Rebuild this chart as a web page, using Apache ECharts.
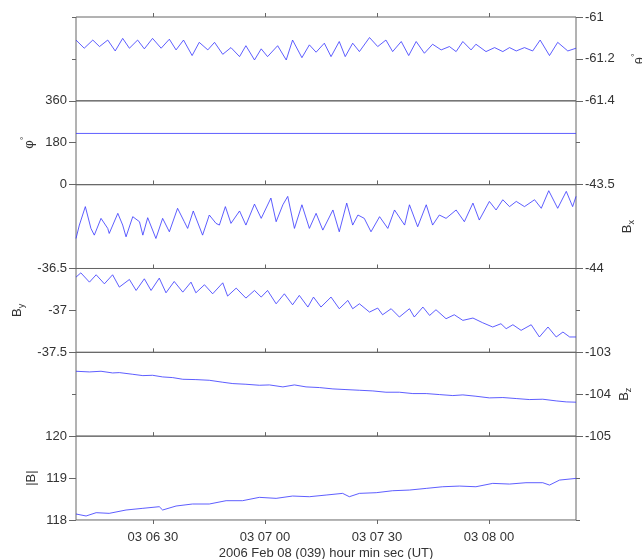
<!DOCTYPE html>
<html>
<head>
<meta charset="utf-8">
<script src="https://cdn.jsdelivr.net/npm/echarts@6/dist/echarts.min.js"></script>
<style>
  html, body { margin: 0; padding: 0; background: #fff; }
  #chart { width: 642px; height: 559px; }
</style>
</head>
<body>
<div id="chart"></div>
<script>
// time axis: seconds after 03:06:00 UT
var tickValues = [30, 60, 90, 120];
var tickLabels = ['03 06 30', '03 07 00', '03 07 30', '03 08 00'];
var xTitle = '2006 Feb 08 (039) hour min sec (UT)';

// [seconds, value]
var thetaData = [[9.4,-61.110],[11.6,-61.149],[13.9,-61.110],[15.7,-61.141],[17.9,-61.110],[19.9,-61.162],[21.9,-61.102],[23.7,-61.149],[25.9,-61.110],[27.7,-61.152],[29.9,-61.102],[32.2,-61.149],[34.4,-61.106],[36.2,-61.157],[38.2,-61.110],[40.5,-61.184],[42.4,-61.121],[44.7,-61.157],[46.5,-61.121],[48.7,-61.178],[50.9,-61.146],[53.2,-61.189],[54.9,-61.137],[57.2,-61.205],[59.0,-61.152],[60.7,-61.189],[63.4,-61.137],[65.7,-61.205],[67.4,-61.110],[69.9,-61.194],[71.9,-61.133],[73.7,-61.168],[75.9,-61.125],[77.7,-61.189],[79.9,-61.117],[81.5,-61.189],[83.5,-61.125],[85.3,-61.165],[88.0,-61.098],[90.2,-61.141],[92.4,-61.110],[94.2,-61.165],[96.5,-61.117],[98.5,-61.184],[100.5,-61.117],[102.7,-61.173],[104.9,-61.130],[107.2,-61.157],[109.4,-61.141],[111.2,-61.165],[113.0,-61.117],[115.2,-61.157],[116.5,-61.130],[119.2,-61.165],[121.5,-61.146],[123.7,-61.165],[125.5,-61.146],[127.3,-61.162],[129.5,-61.146],[131.7,-61.162],[133.7,-61.110],[136.2,-61.184],[138.4,-61.121],[141.1,-61.162],[143.3,-61.149]];

var phiData = [[9.4,220],[143.3,220]];

var bxData = [[9.4,-43.821],[10.3,-43.741],[11.9,-43.631],[13.4,-43.761],[14.3,-43.801],[16.1,-43.701],[17.9,-43.761],[18.3,-43.791],[20.6,-43.671],[21.9,-43.741],[22.8,-43.811],[24.6,-43.691],[26.4,-43.721],[27.3,-43.801],[28.6,-43.697],[30.8,-43.821],[32.6,-43.701],[34.4,-43.781],[36.6,-43.641],[38.4,-43.721],[39.3,-43.761],[40.8,-43.657],[43.3,-43.801],[45.1,-43.681],[46.9,-43.731],[47.8,-43.741],[49.4,-43.631],[50.9,-43.731],[53.2,-43.657],[54.9,-43.741],[57.2,-43.616],[59.0,-43.701],[61.6,-43.580],[63.0,-43.721],[64.8,-43.620],[66.1,-43.570],[67.9,-43.761],[69.9,-43.620],[71.9,-43.761],[73.7,-43.671],[75.5,-43.771],[78.2,-43.651],[79.9,-43.781],[81.9,-43.610],[83.5,-43.741],[84.9,-43.681],[86.6,-43.701],[88.4,-43.781],[90.7,-43.691],[92.9,-43.761],[94.7,-43.651],[97.4,-43.741],[98.7,-43.620],[100.9,-43.751],[103.2,-43.620],[104.9,-43.741],[106.7,-43.681],[108.5,-43.701],[111.2,-43.651],[113.4,-43.721],[115.7,-43.610],[117.4,-43.711],[120.1,-43.600],[121.9,-43.651],[123.7,-43.590],[125.5,-43.631],[127.3,-43.600],[129.5,-43.631],[132.2,-43.590],[134.0,-43.641],[136.0,-43.536],[138.4,-43.641],[140.7,-43.540],[142.4,-43.631],[143.3,-43.570]];

var byData = [[9.4,-36.603],[10.7,-36.552],[13.0,-36.663],[14.8,-36.575],[17.0,-36.683],[19.2,-36.575],[21.0,-36.722],[23.7,-36.631],[25.5,-36.762],[27.7,-36.623],[29.5,-36.762],[31.7,-36.615],[33.5,-36.790],[35.7,-36.655],[38.0,-36.782],[40.2,-36.663],[41.5,-36.790],[43.8,-36.694],[46.0,-36.802],[48.7,-36.671],[50.0,-36.829],[52.3,-36.734],[54.9,-36.853],[57.2,-36.762],[59.0,-36.841],[60.7,-36.762],[63.0,-36.921],[65.2,-36.802],[67.4,-36.933],[69.2,-36.821],[71.5,-36.960],[73.0,-36.841],[75.0,-36.960],[77.7,-36.841],[79.9,-36.980],[82.2,-36.881],[83.5,-36.980],[85.3,-36.921],[88.0,-37.020],[90.2,-36.972],[91.5,-37.052],[93.8,-36.980],[96.0,-37.079],[98.7,-36.980],[100.0,-37.079],[102.3,-36.960],[104.1,-37.060],[105.8,-36.992],[108.5,-37.099],[110.7,-37.052],[113.0,-37.119],[115.7,-37.091],[118.3,-37.147],[121.0,-37.198],[123.2,-37.159],[124.6,-37.218],[126.4,-37.171],[128.6,-37.238],[131.3,-37.171],[133.5,-37.317],[135.8,-37.198],[138.0,-37.317],[139.8,-37.258],[141.6,-37.317],[143.3,-37.317]];

var bzData = [[9.4,-103.452],[13.0,-103.468],[16.1,-103.452],[19.2,-103.492],[21.0,-103.484],[24.6,-103.524],[27.3,-103.556],[29.9,-103.548],[32.6,-103.587],[35.3,-103.603],[38.0,-103.643],[41.5,-103.651],[45.1,-103.667],[48.7,-103.714],[51.4,-103.746],[54.9,-103.762],[58.5,-103.786],[61.2,-103.778],[64.8,-103.825],[67.9,-103.778],[71.0,-103.825],[74.6,-103.841],[78.2,-103.873],[81.7,-103.889],[85.3,-103.905],[88.9,-103.921],[92.4,-103.952],[96.0,-103.952],[99.6,-103.984],[103.2,-103.984],[106.7,-104.008],[110.3,-104.032],[113.0,-104.016],[116.5,-104.048],[120.1,-104.087],[123.7,-104.079],[127.3,-104.103],[130.8,-104.127],[134.4,-104.119],[138.0,-104.159],[140.7,-104.183],[143.3,-104.190]];

var bmagData = [[9.4,118.143],[12.1,118.095],[14.8,118.174],[18.3,118.158],[22.8,118.238],[27.3,118.278],[31.7,118.317],[32.6,118.238],[36.2,118.333],[40.6,118.381],[45.1,118.381],[49.6,118.460],[54.0,118.460],[58.5,118.540],[63.0,118.516],[67.4,118.571],[71.9,118.555],[76.4,118.595],[80.8,118.635],[82.6,118.555],[85.3,118.635],[89.8,118.651],[94.2,118.698],[98.7,118.714],[103.2,118.754],[107.6,118.793],[112.1,118.809],[116.5,118.793],[121.0,118.873],[125.5,118.857],[129.9,118.889],[134.4,118.889],[136.2,118.833],[138.9,118.952],[143.3,118.992]];

var panels = [
  { data: thetaData, min: -61.4, max: -61, interval: 0.2, side: 'right', name: '{m|θ}{s|°}', gap: 55 },
  { data: phiData, min: 0, max: 360, interval: 180, side: 'left', name: '{m|φ}{s|°}', gap: 38 },
  { data: bxData, min: -44, max: -43.5, interval: 0.5, side: 'right', name: '{m|B}{b|x}', gap: 42 },
  { data: byData, min: -37.5, max: -36.5, interval: 0.5, side: 'left', name: '{m|B}{b|y}', gap: 50 },
  { data: bzData, min: -105, max: -103, interval: 1, side: 'right', name: '{m|B}{b|z}', gap: 39 },
  { data: bmagData, min: 118, max: 120, interval: 1, side: 'left', name: '{m||B|}', gap: 36 }
];

var chart = echarts.init(document.getElementById('chart'));

var font = 'Liberation Sans, Arial, sans-serif';
var textColor = '#333';
var lineColor = '#666';
var top0 = 17, panelH = 83.83;

var grids = [], xAxes = [], yAxes = [], series = [];

panels.forEach(function (p, i) {
  grids.push({
    left: 76, right: 66, top: top0 + i * panelH, height: panelH,
    outerBoundsMode: 'none', containLabel: false,
    show: true, borderColor: lineColor, borderWidth: 1
  });
  xAxes.push({
    type: 'value', gridIndex: i, position: 'top', min: 9.4, max: 143.3,
    axisLine: { show: false },
    axisTick: { show: true, customValues: tickValues, length: 4, lineStyle: { color: lineColor } },
    axisLabel: { show: false },
    splitLine: { show: false }
  });
  var other = p.side === 'left' ? 'right' : 'left';
  yAxes.push({
    type: 'value', gridIndex: i, position: p.side, min: p.min, max: p.max, interval: p.interval,
    axisLine: { show: false },
    axisTick: { show: true, length: 7, lineStyle: { color: lineColor } },
    axisLabel: { show: true, margin: 9, color: textColor, fontSize: 13, fontFamily: font },
    splitLine: { show: false },
    name: p.name, nameLocation: 'middle', nameRotate: 90, nameGap: p.gap, nameMoveOverlap: false,
    nameTextStyle: {
      color: textColor, fontFamily: font, fontSize: 13, lineHeight: 18,
      rich: {
        m: { fontSize: 13, lineHeight: 18, fontFamily: font, color: textColor },
        s: { fontSize: 9, lineHeight: 9, verticalAlign: 'top', fontFamily: font, color: textColor },
        b: { fontSize: 9, lineHeight: 9, verticalAlign: 'bottom', fontFamily: font, color: textColor }
      }
    }
  });
  yAxes.push({
    type: 'value', gridIndex: i, position: other, min: p.min, max: p.max, interval: p.interval,
    axisLine: { show: false },
    axisTick: { show: true, length: 4, lineStyle: { color: lineColor } },
    axisLabel: { show: false },
    splitLine: { show: false }
  });
  series.push({
    type: 'line', xAxisIndex: i, yAxisIndex: 2 * i, data: p.data,
    showSymbol: false, symbol: 'none', silent: true,
    lineStyle: { color: '#3535ff', width: 0.8 }
  });
});

// labelled time axis under the last panel
xAxes.push({
  type: 'value', gridIndex: 5, position: 'bottom', min: 9.4, max: 143.3,
  axisLine: { show: false },
  axisTick: { show: true, customValues: tickValues, length: 4, lineStyle: { color: lineColor } },
  axisLabel: {
    show: true, customValues: tickValues, margin: 11, color: textColor, fontSize: 13, fontFamily: font,
    formatter: function (v) { return tickLabels[tickValues.indexOf(v)]; }
  },
  splitLine: { show: false },
  name: xTitle, nameLocation: 'middle', nameGap: 27, nameMoveOverlap: false,
  nameTextStyle: { color: textColor, fontSize: 13, fontFamily: font }
});

chart.setOption({
  animation: false,
  grid: grids,
  xAxis: xAxes,
  yAxis: yAxes,
  series: series
});
</script>
</body>
</html>
